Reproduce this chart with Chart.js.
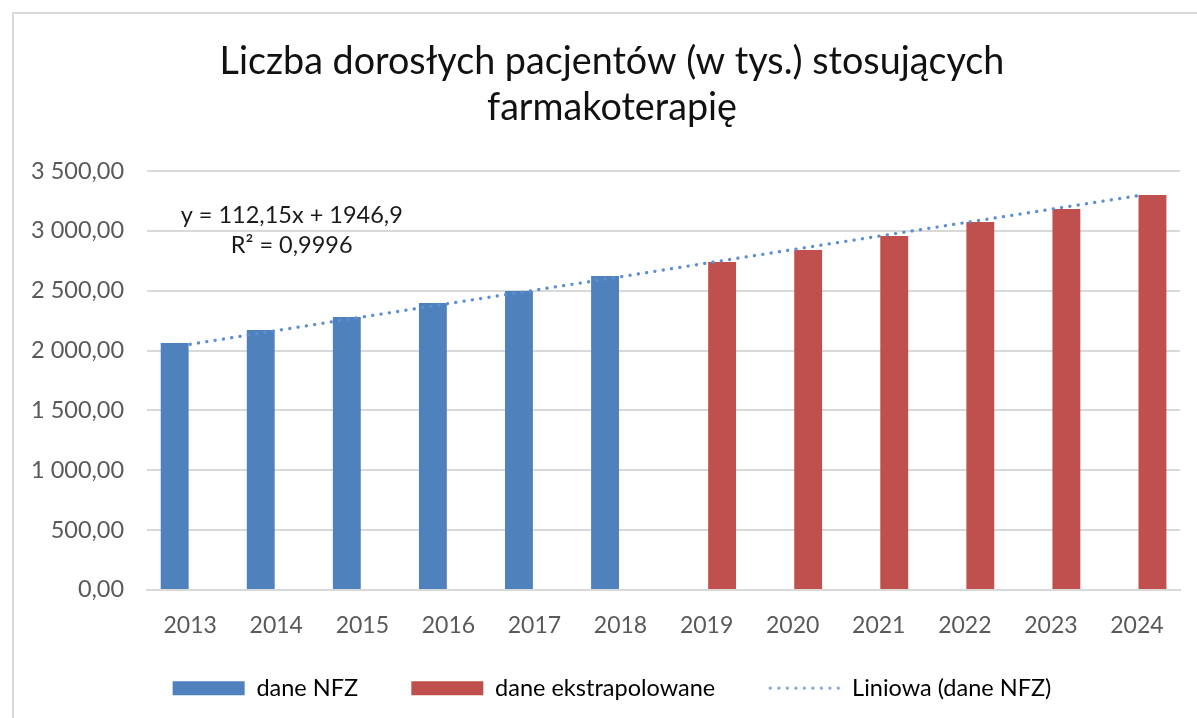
<!DOCTYPE html>
<html>
<head>
<meta charset="utf-8">
<script src="https://cdn.jsdelivr.net/npm/chart.js@4.4.1/dist/chart.umd.min.js"></script>
<style>
  html, body { margin: 0; padding: 0; background: #fff; overflow: hidden; }
  #frame { position: absolute; left: 12px; top: 12px; width: 1200px; height: 720px; border: 2px solid #d9d9d9; box-sizing: border-box; }
  #wrap { position: absolute; left: 14px; top: 14px; width: 1194px; height: 704px; }
</style>
</head>
<body>
<div id="frame"></div>
<div id="wrap"><canvas id="chart"></canvas></div>
<script>
'use strict';

// data
var years = ['2013', '2014', '2015', '2016', '2017', '2018', '2019', '2020', '2021', '2022', '2023', '2024'];
var daneNFZ = [2063, 2172, 2281, 2398, 2498, 2623, null, null, null, null, null, null];
var daneEkstrapolowane = [null, null, null, null, null, null, 2740, 2840, 2957, 3074, 3183, 3300];
var liniowa = [2052, 2166, 2280, 2392, 2504, 2616, 2730, 2843, 2955, 3068, 3180, 3292];
var titleLines = ['Liczba dorosłych pacjentów (w tys.) stosujących', 'farmakoterapię'];
var equationLines = ['y = 112,15x + 1946,9', 'R² = 0,9996'];

var blue = '#4f81bd';
var red = '#c0504d';
var trendBlue = '#5b8fd0';
var fontFamily = 'Lato, "Open Sans", sans-serif';
var gap = '\u2002\u2002\u2002\u2009'; // extra room between legend items

function plNumber(v) {
	var s = v.toFixed(2).replace('.', ',');
	var parts = s.split(',');
	parts[0] = parts[0].replace(/\B(?=(\d{3})+(?!\d))/g, ' ');
	return parts.join(',');
}

// dotted legend marker
var dots = document.createElement('canvas');
dots.width = 72;
dots.height = 6;
(function () {
	var c = dots.getContext('2d');
	c.fillStyle = trendBlue;
	for (var i = 0; i < 9; i++) {
		c.beginPath();
		c.arc(2 + i * 8.5, 3, 1.4, 0, Math.PI * 2);
		c.fill();
	}
})();

var equationPlugin = {
	id: 'equation',
	afterLayout: function (chart) {
		// nudge title and legend to where the original sits
		chart.titleBlock.left += 18;
		chart.titleBlock.right += 18;
		chart.legend.left += 18;
		chart.legend.right += 18;
	},
	afterDatasetsDraw: function (chart) {
		var ctx = chart.ctx;
		var xs = chart.scales.x;
		var ys = chart.scales.y;
		var cx = xs.getPixelForValue(1.18);
		ctx.save();
		ctx.fillStyle = '#1a1a1a';
		ctx.font = '23.5px ' + fontFamily;
		ctx.textAlign = 'center';
		ctx.textBaseline = 'middle';
		ctx.fillText(equationLines[0], cx, ys.getPixelForValue(3130));
		ctx.fillText(equationLines[1], cx, ys.getPixelForValue(2880));
		ctx.restore();
	}
};

var ctx = document.getElementById('chart');

var chart = new Chart(ctx, {
	type: 'bar',
	data: {
		labels: years,
		datasets: [{
			label: 'dane NFZ',
			data: daneNFZ,
			backgroundColor: blue,
			categoryPercentage: 0.72,
			barPercentage: 0.9,
			order: 2
		}, {
			label: 'dane ekstrapolowane',
			data: daneEkstrapolowane,
			backgroundColor: red,
			categoryPercentage: 0.72,
			barPercentage: 0.9,
			order: 2
		}, {
			type: 'line',
			label: 'Liniowa (dane NFZ)',
			data: liniowa,
			borderColor: trendBlue,
			borderWidth: 3.3,
			borderDash: [0.1, 8.3],
			borderCapStyle: 'round',
			pointRadius: 0,
			fill: false,
			order: 1
		}]
	},
	plugins: [equationPlugin],
	options: {
		responsive: true,
		maintainAspectRatio: false,
		animation: false,
		layout: { padding: { left: -6, right: 28, top: 0, bottom: 8 } },
		plugins: {
			tooltip: { enabled: false },
			title: {
				display: true,
				text: titleLines,
				color: '#111',
				font: { family: fontFamily, size: 37.7, weight: 'normal', lineHeight: 1.22 },
				padding: { top: 25, bottom: 40 }
			},
			legend: {
				position: 'bottom',
				labels: {
					color: '#262626',
					font: { family: fontFamily, size: 23.5 },
					usePointStyle: true,
					pointStyleWidth: 72,
					boxHeight: 14,
					padding: 15,
					generateLabels: function (chart) {
						return [{
							text: 'dane NFZ' + gap, fillStyle: blue, strokeStyle: blue, lineWidth: 0,
							pointStyle: 'rect', datasetIndex: 0, hidden: false
						}, {
							text: 'dane ekstrapolowane' + gap, fillStyle: red, strokeStyle: red, lineWidth: 0,
							pointStyle: 'rect', datasetIndex: 1, hidden: false
						}, {
							text: 'Liniowa (dane NFZ)', fillStyle: trendBlue, strokeStyle: trendBlue, lineWidth: 0,
							pointStyle: dots, datasetIndex: 2, hidden: false
						}];
					}
				}
			}
		},
		scales: {
			x: {
				grid: { display: false, drawTicks: false },
				border: { display: true, color: '#d9d9d9', width: 2 },
				ticks: { color: '#595959', font: { family: fontFamily, size: 23 }, padding: 22 }
			},
			y: {
				min: 0,
				max: 3500,
				grid: { color: '#d9d9d9', lineWidth: 2, drawTicks: false },
				border: { display: false },
				ticks: {
					stepSize: 500,
					color: '#595959',
					font: { family: fontFamily, size: 23.5 },
					padding: 23,
					callback: function (v) { return plNumber(v); }
				}
			}
		}
	}
});
</script>
</body>
</html>
